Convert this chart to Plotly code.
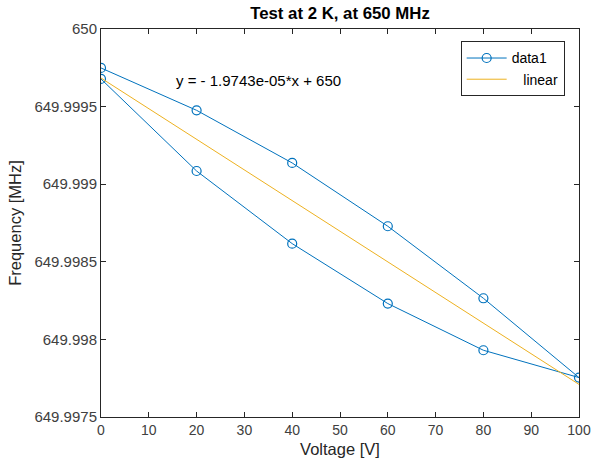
import plotly.graph_objects as go

# hysteresis loop: up-sweep then down-sweep
voltage = [0, 20, 40, 60, 80, 100, 80, 60, 40, 20, 0]
frequency = [
    649.999749, 649.999476, 649.999137, 649.998729, 649.998265, 649.997754,
    649.997930, 649.998231, 649.998617, 649.999085, 649.999678,
]

# basic-fitting line, end points
fit_x = [0, 100]
fit_y = [649.999684, 649.997710]
fit_label = "y = - 1.9743e-05*x + 650"

x_ticks = [0, 10, 20, 30, 40, 50, 60, 70, 80, 90, 100]
y_ticks = [649.9975, 649.998, 649.9985, 649.999, 649.9995, 650.0]
y_tick_labels = ["649.9975", "649.998", "649.9985", "649.999", "649.9995", "650"]

BLUE = "#0072BD"
ORANGE = "#EDB120"
AXIS = "#262626"
FONT = "Liberation Sans, Arial, sans-serif"

W, H = 592, 466

fig = go.Figure()
fig.add_trace(
    go.Scatter(
        x=voltage,
        y=frequency,
        mode="lines+markers",
        name="data1",
        line=dict(color=BLUE, width=1),
        marker=dict(symbol="circle-open", size=9, color=BLUE, line=dict(width=1.2, color=BLUE)),
    )
)
fig.add_trace(
    go.Scatter(
        x=fit_x,
        y=fit_y,
        mode="lines",
        name="\u00a0\u00a0\u00a0linear",
        line=dict(color=ORANGE, width=1),
    )
)

fig.add_annotation(
    x=15.3, y=649.99967, text=fit_label, showarrow=False,
    xanchor="left", yanchor="middle", font=dict(size=15, color="#000000"),
)

axis_common = dict(
    showline=True, linecolor=AXIS, linewidth=1, mirror="ticks",
    ticks="inside", ticklen=5, tickcolor=AXIS, showgrid=False, zeroline=False,
    automargin=False,
)
fig.update_xaxes(
    range=[0, 100], tickvals=x_ticks,
    tickfont=dict(size=14, color="#404040"),
    title=dict(text="Voltage [V]", font=dict(size=16.5, color="#262626"), standoff=6),
    **axis_common,
)
fig.update_yaxes(
    range=[649.9975, 650.0], tickvals=y_ticks, ticktext=y_tick_labels,
    tickfont=dict(size=15, color="#404040"),
    title=dict(text="Frequency [MHz]", font=dict(size=16.5, color="#262626"), standoff=8),
    **axis_common,
)

fig.update_layout(
    width=W,
    height=H,
    paper_bgcolor="white",
    plot_bgcolor="white",
    font=dict(family=FONT),
    title=dict(
        text="<b>Test at 2 K, at 650 MHz</b>", x=340 / W, xanchor="center",
        y=1 - 13 / H, yanchor="middle", font=dict(size=16.8, color="#000000"),
    ),
    margin=dict(l=101, r=13, t=29, b=49),
    showlegend=True,
    legend=dict(
        x=0.970, y=0.968, xanchor="right", yanchor="top",
        bgcolor="white", bordercolor=AXIS, borderwidth=1,
        font=dict(size=14, color="#000000"),
        tracegroupgap=0, itemwidth=40,
    ),
)

# drop the page's default body margin so the figure sits at the window origin
fig.write_html(
    "out.html",
    config={"displayModeBar": False},
    post_script="document.body.style.margin='0';",
)
